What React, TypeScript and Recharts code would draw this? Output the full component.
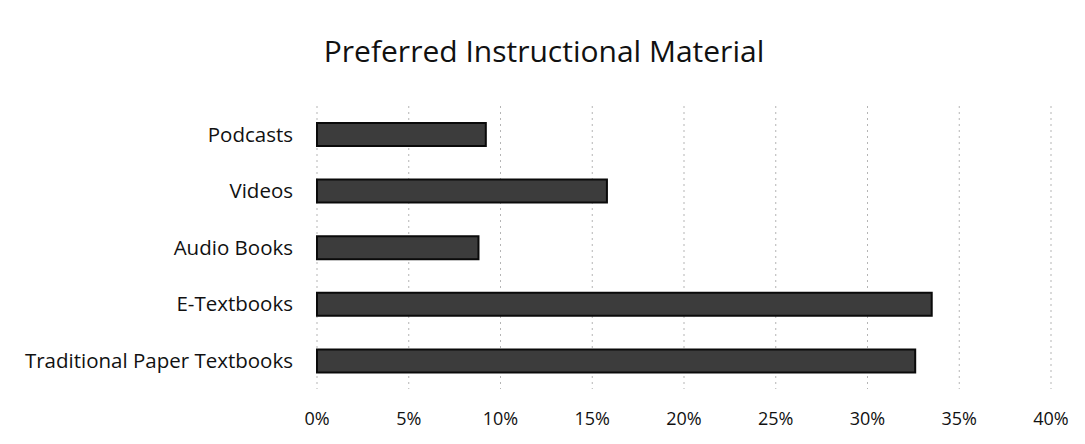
import { BarChart, Bar, XAxis, YAxis, CartesianGrid } from 'recharts'

const CATEGORIES = ['Podcasts', 'Videos', 'Audio Books', 'E-Textbooks', 'Traditional Paper Textbooks']
const SHARES = [9.2, 15.8, 8.8, 33.5, 32.6]
const X_TICKS = [0, 5, 10, 15, 20, 25, 30, 35, 40]

const FONT = '"Open Sans", sans-serif'

export default function App() {
  const data = CATEGORIES.map((name, i) => ({ name, share: SHARES[i] }))

  return (
    <div style={{ position: 'absolute', left: 0, top: 0, width: 1085, height: 444, background: '#fff', fontFamily: FONT }}>
      <div
        style={{
          position: 'absolute', left: 0, top: 34, width: 1088, textAlign: 'center',
          fontSize: 30, color: '#111', lineHeight: '34px',
        }}
      >
        Preferred Instructional Material
      </div>
      <BarChart
        layout="vertical"
        width={1085}
        height={444}
        data={data}
        margin={{ top: 106, right: 34, left: 0, bottom: 0 }}
        barSize={23}
      >
        <CartesianGrid horizontal={false} strokeDasharray="2 4" stroke="#b5b5b5" />
        <XAxis
          type="number"
          domain={[0, 40]}
          ticks={X_TICKS}
          tickFormatter={(v) => `${v}%`}
          axisLine={false}
          tickLine={false}
          tickMargin={17}
          height={55}
          tick={{ fill: '#111', fontSize: 18, fontFamily: FONT }}
        />
        <YAxis
          type="category"
          dataKey="name"
          width={317}
          axisLine={false}
          tickLine={false}
          tickMargin={18}
          tick={{ fill: '#111', fontSize: 20.5, fontFamily: FONT }}
        />
        <Bar dataKey="share" fill="#3c3c3c" stroke="#0a0a0a" strokeWidth={2} isAnimationActive={false} />
      </BarChart>
    </div>
  )
}
